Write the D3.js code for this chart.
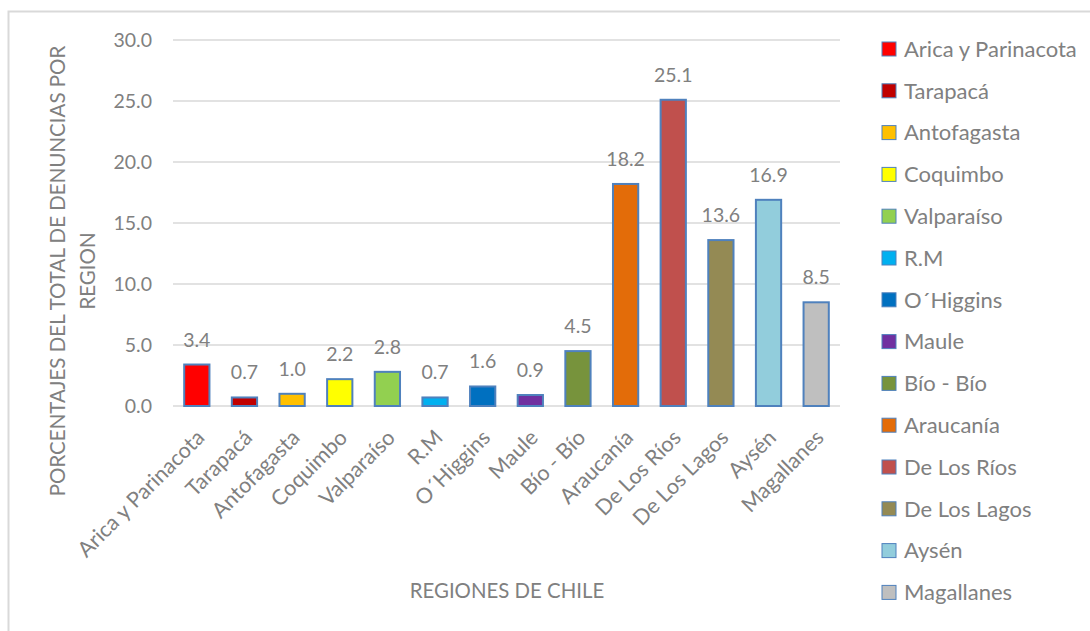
<!DOCTYPE html>
<html>
<head>
<meta charset="utf-8">
<script src="https://cdn.jsdelivr.net/npm/d3@7"></script>
<style>
  body { margin: 0; background: #fff; }
  text { font-family: "Lato", "Open Sans", sans-serif; fill: #808080; }
</style>
</head>
<body>
<svg id="uno"></svg>
<script>
// datos
let regiones = ["Arica y Parinacota","Tarapacá","Antofagasta","Coquimbo","Valparaíso","R.M","O´Higgins","Maule","Bío - Bío","Araucanía","De Los Ríos","De Los Lagos","Aysén","Magallanes"];
let valores = [3.4,0.7,1.0,2.2,2.8,0.7,1.6,0.9,4.5,18.2,25.1,13.6,16.9,8.5];
let colores = ["#FF0000","#C00000","#FFC000","#FFFF00","#92D050","#00B0F0","#0070C0","#7030A0","#77933C","#E36C09","#C0504D","#948A54","#92CDDC","#BFBFBF"];
let ticksY = [0,5,10,15,20,25,30];

let misvg = d3.select("#uno")
  .attr("width",1090)
  .attr("height",631)

// marco
misvg.append("rect")
  .attr("x",8.5).attr("y",11.5)
  .attr("width",1100).attr("height",640)
  .attr("fill","none")
  .attr("stroke","#d9d9d9")
  .attr("stroke-width",2)

let izq = 173, der = 840, arriba = 40, abajo = 406;

let x = d3.scaleBand()
  .domain(regiones)
  .range([izq,der])
  .paddingInner(0.47)
  .paddingOuter(0.235)

let y = d3.scaleLinear()
  .domain([0,30])
  .range([abajo,arriba])

// lineas de la grilla
misvg.selectAll("line.grid")
  .data(ticksY)
  .enter()
  .append("line")
  .attr("class","grid")
  .attr("x1",izq).attr("x2",der)
  .attr("y1",d=>y(d)).attr("y2",d=>y(d))
  .attr("stroke","#d9d9d9")
  .attr("stroke-width",1.5)

// eje y
let ejeY = d3.axisLeft(y).tickValues(ticksY).tickFormat(d3.format(".1f")).tickSize(0).tickPadding(21)
let gY = misvg.append("g").attr("transform","translate("+izq+",0)").call(ejeY)
gY.select(".domain").remove()
gY.selectAll("text").style("font-size","19.5px").attr("fill","#808080").attr("font-family",null).attr("dy","0.35em")

// barras
misvg.selectAll("rect.barra")
  .data(valores)
  .enter()
  .append("rect")
  .attr("class","barra")
  .attr("x",(d,i)=>x(regiones[i]))
  .attr("y",d=>y(d))
  .attr("width",x.bandwidth())
  .attr("height",d=>y(0)-y(d))
  .attr("fill",(d,i)=>colores[i])
  .attr("stroke","#4F81BD")
  .attr("stroke-width",2)

// etiquetas de valores
misvg.selectAll("text.valor")
  .data(valores)
  .enter()
  .append("text")
  .attr("class","valor")
  .attr("x",(d,i)=>x(regiones[i])+x.bandwidth()/2)
  .attr("y",d=>y(d)-18)
  .attr("text-anchor","middle")
  .style("font-size","19.5px")
  .text(d=>d.toFixed(1))

// eje x
let ejeX = d3.axisBottom(x).tickSize(0).tickPadding(0)
let gX = misvg.append("g").attr("transform","translate(0,"+abajo+")").call(ejeX)
gX.select(".domain").remove()
gX.selectAll("text")
  .style("font-size","21.5px")
  .attr("fill","#808080")
  .attr("font-family",null)
  .attr("text-anchor","end")
  .attr("dy",null)
  .attr("y",0)
  .attr("transform","translate(9,33) rotate(-45)")

// titulos
misvg.append("text")
  .attr("x",507).attr("y",598)
  .attr("text-anchor","middle")
  .style("font-size","20.4px")
  .text("REGIONES DE CHILE")

let tituloY = misvg.append("text")
  .attr("transform","translate(0,271) rotate(-90)")
  .attr("text-anchor","middle")
  .style("font-size","20.5px")
tituloY.append("tspan").attr("x",0).attr("y",65).text("PORCENTAJES DEL TOTAL DE DENUNCIAS POR")
tituloY.append("tspan").attr("x",0).attr("y",95).text("REGION")

// leyenda
let leyenda = misvg.selectAll("g.ley")
  .data(regiones)
  .enter()
  .append("g")
  .attr("class","ley")
  .attr("transform",(d,i)=>"translate(882,"+(49+i*41.8)+")")

leyenda.append("rect")
  .attr("x",0).attr("y",-7)
  .attr("width",14).attr("height",14)
  .attr("fill",(d,i)=>colores[i])
  .attr("stroke","#4F81BD")
  .attr("stroke-width",1)

leyenda.append("text")
  .attr("x",22).attr("y",0)
  .attr("dy","0.35em")
  .style("font-size","22px")
  .text(d=>d)
</script>
</body>
</html>
